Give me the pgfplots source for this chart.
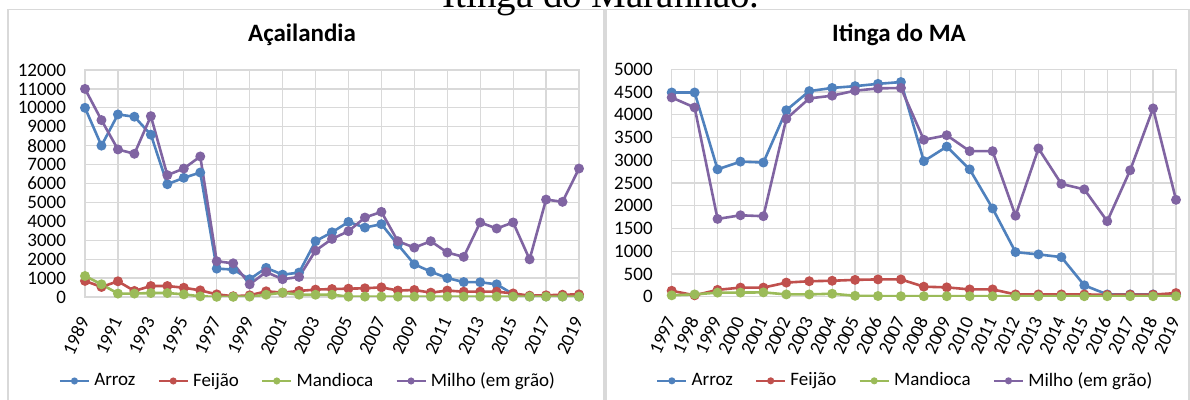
\documentclass[border=0pt]{standalone}
\usepackage{pgfplots}
\pgfplotsset{compat=1.18}
\usepackage{pgfplotstable}
\usepackage{fontspec}
\setmainfont{Carlito}
\newfontfamily\capfont{Liberation Serif}
\definecolor{cA}{HTML}{4F81BD}
\definecolor{cF}{HTML}{C0504D}
\definecolor{cM}{HTML}{9BBB59}
\definecolor{cO}{HTML}{8064A2}
\definecolor{gridgray}{HTML}{D9D9D9}
\definecolor{boxgray}{HTML}{D9D9D9}

\pgfplotstableread{
year arroz feijao mandioca milho
1989 10000 850 1110 11000
1990 8000 530 670 9350
1991 9650 830 180 7800
1992 9530 320 180 7570
1993 8580 580 210 9560
1994 5960 580 210 6440
1995 6300 490 140 6790
1996 6580 350 35 7430
1997 1500 140 10 1890
1998 1450 40 10 1780
1999 940 90 20 670
2000 1540 300 120 1320
2001 1180 230 230 940
2002 1290 320 120 1060
2003 2950 390 120 2450
2004 3420 420 120 3070
2005 3970 440 20 3480
2006 3670 460 20 4200
2007 3850 510 20 4500
2008 2770 340 20 2950
2009 1730 370 20 2610
2010 1340 230 20 2950
2011 1000 340 20 2350
2012 790 280 20 2120
2013 780 280 20 3940
2014 670 280 20 3620
2015 150 190 20 3940
2016 30 70 20 1990
2017 30 90 20 5150
2018 30 120 20 5030
2019 30 140 20 6790
}\acai

\pgfplotstableread{
year arroz feijao mandioca milho
1997 4490 130 30 4380
1998 4490 30 50 4160
1999 2800 150 90 1710
2000 2970 200 90 1790
2001 2950 200 95 1770
2002 4100 310 50 3910
2003 4520 340 50 4360
2004 4590 350 65 4420
2005 4630 370 20 4530
2006 4680 380 15 4580
2007 4720 380 10 4590
2008 2980 220 10 3450
2009 3300 205 10 3550
2010 2800 160 10 3200
2011 1940 160 10 3200
2012 980 50 10 1780
2013 930 50 10 3260
2014 870 50 10 2480
2015 250 50 10 2360
2016 50 40 10 1660
2017 50 45 10 2780
2018 50 45 10 4140
2019 50 80 10 2130
}\itinga

\pgfplotsset{
 myax/.style={
  scale only axis,
  anchor=south west,
  grid=major,
  grid style={draw=gridgray, line width=0.6pt},
  axis line style={draw=gridgray, line width=0.6pt},
  major tick length=0pt,
  tick label style={font=\fontsize{9.5}{10}\selectfont},
  /pgf/number format/1000 sep={},
  /pgf/number format/assume math mode=true,
  scaled y ticks=false,
  yticklabel style={xshift=-6pt},
  xticklabel style={yshift=-7.5pt, xshift=1pt, rotate=65, anchor=east},
  legend columns=4,
  legend style={draw=none, fill=none, font=\fontsize{9.5}{10}\selectfont, anchor=center,
    /tikz/every even column/.append style={column sep=9pt}},
  legend image code/.code={
    \draw[mark repeat=2,mark phase=2,#1, every mark/.append style={scale=0.6}]
      plot coordinates {(0pt,0pt) (7.25pt,0pt) (14.5pt,0pt)};},
  every axis plot/.append style={line width=1.3pt, mark=*, mark size=1.8pt},
 }
}

\begin{document}
\begin{tikzpicture}[x=1pt,y=1pt]
\useasboundingbox (0,0) rectangle (595,200);
\fill[white] (0,0) rectangle (595,200);
\draw[boxgray, line width=0.6pt] (4,-5) rectangle (302,195.2);
\draw[boxgray, line width=0.6pt] (303,-5) rectangle (594.5,195.2);
\node[font=\capfont\fontsize{19.5}{20}\selectfont, anchor=base] at (300.5,196) {Itinga do Maranhão.};
\node[font=\bfseries\fontsize{12.5}{13}\selectfont] at (151,182.5) {Açailandia};
\node[font=\bfseries\fontsize{12.5}{13}\selectfont] at (449.5,182.5) {Itinga do MA};

\begin{axis}[myax, at={(42.5pt,51.5pt)}, width=247pt, height=113.5pt,
  xmin=1989, xmax=2019, ymin=0, ymax=12000,
  xtick={1989,1991,...,2019}, ytick={0,1000,...,12000},
  legend style={at={(0.453,-0.37)}}]
\addplot[cA, mark options={fill=cA, draw=cA}] table[x=year,y=arroz] {\acai};
\addplot[cF, mark options={fill=cF, draw=cF}] table[x=year,y=feijao] {\acai};
\addplot[cM, mark options={fill=cM, draw=cM}] table[x=year,y=mandioca] {\acai};
\addplot[cO, mark options={fill=cO, draw=cO}] table[x=year,y=milho] {\acai};
\legend{Arroz,Feijão,Mandioca,Milho (em grão)}
\end{axis}

\begin{axis}[myax, at={(335.85pt,51.65pt)}, width=252.15pt, height=113.7pt,
  xmin=1997, xmax=2019, ymin=0, ymax=5000,
  xtick={1997,1998,...,2019}, ytick={0,500,...,5000},
  legend style={at={(0.465,-0.37)}}]
\addplot[cA, mark options={fill=cA, draw=cA}] table[x=year,y=arroz] {\itinga};
\addplot[cF, mark options={fill=cF, draw=cF}] table[x=year,y=feijao] {\itinga};
\addplot[cM, mark options={fill=cM, draw=cM}] table[x=year,y=mandioca] {\itinga};
\addplot[cO, mark options={fill=cO, draw=cO}] table[x=year,y=milho] {\itinga};
\legend{Arroz,Feijão,Mandioca,Milho (em grão)}
\end{axis}
\end{tikzpicture}
\end{document}
